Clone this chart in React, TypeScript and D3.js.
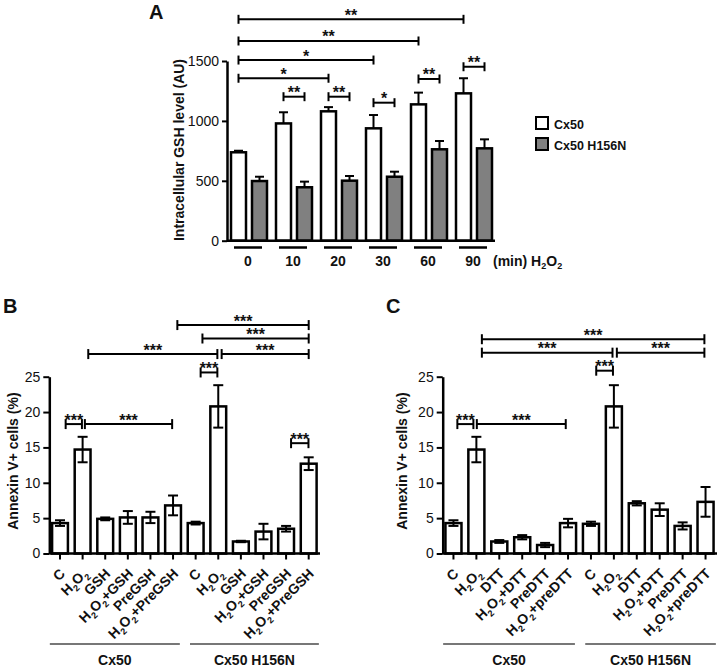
import React, { useEffect, useRef } from "react";
import * as d3 from "d3";

const FONT = "'Liberation Sans', Arial, Helvetica, sans-serif";

// ---- panel A: intracellular GSH
const timePoints = ["0", "10", "20", "30", "60", "90"];
const seriesA = ["Cx50", "Cx50 H156N"];
const gshCx50 = [738, 979, 1080, 938, 1138, 1230];
const gshCx50Err = [13, 93, 35, 111, 98, 126];
const gshH156N = [498, 446, 501, 534, 763, 771];
const gshH156NErr = [36, 47, 39, 42, 69, 75];
const gshTicks = [0, 500, 1000, 1500];
// g = time group, s = series (0 white, 1 grey)
const bracketsA = [
  { g1: 0, s1: 0, g2: 5, s2: 0, y: 1848, label: "**" },
  { g1: 0, s1: 0, g2: 4, s2: 0, y: 1667, label: "**" },
  { g1: 0, s1: 0, g2: 3, s2: 0, y: 1508, label: "*" },
  { g1: 0, s1: 0, g2: 2, s2: 0, y: 1356, label: "*" },
  { g1: 1, s1: 0, g2: 1, s2: 1, y: 1202, label: "**" },
  { g1: 2, s1: 0, g2: 2, s2: 1, y: 1202, label: "**" },
  { g1: 3, s1: 0, g2: 3, s2: 1, y: 1152, label: "*" },
  { g1: 4, s1: 0, g2: 4, s2: 1, y: 1350, label: "**" },
  { g1: 5, s1: 0, g2: 5, s2: 1, y: 1452, label: "**" },
];

// ---- panel B: GSH treatments
const labelsB = ["C", "H2O2", "GSH", "H2O2+GSH", "PreGSH", "H2O2+PreGSH",
  "C", "H2O2", "GSH", "H2O2+GSH", "PreGSH", "H2O2+PreGSH"];
const annexinB = [4.3, 14.7, 4.9, 5.1, 5.1, 6.8, 4.3, 20.8, 1.7, 3.1, 3.5, 12.7];
const annexinBErr = [0.4, 1.8, 0.2, 0.9, 0.8, 1.4, 0.2, 3.0, 0.1, 1.1, 0.4, 0.9];
// x1/x2 in bar-index units
const bracketsB = [
  { x1: 0.25, x2: 0.97, y: 18.3, label: "***" },
  { x1: 1.1, x2: 4.96, y: 18.3, label: "***" },
  { x1: 1.25, x2: 6.96, y: 28.2, label: "***" },
  { x1: 7.15, x2: 11.0, y: 28.2, label: "***" },
  { x1: 6.3, x2: 11.0, y: 30.4, label: "***" },
  { x1: 5.19, x2: 11.0, y: 32.3, label: "***" },
  { x1: 6.22, x2: 6.96, y: 25.6, label: "***" },
  { x1: 10.22, x2: 10.99, y: 15.6, label: "***" },
];

// ---- panel C: DTT treatments
const labelsC = ["C", "H2O2", "DTT", "H2O2+DTT", "PreDTT", "H2O2+preDTT",
  "C", "H2O2", "DTT", "H2O2+DTT", "PreDTT", "H2O2+preDTT"];
const annexinC = [4.3, 14.7, 1.7, 2.3, 1.2, 4.3, 4.2, 20.8, 7.1, 6.2, 3.9, 7.3];
const annexinCErr = [0.4, 1.8, 0.2, 0.3, 0.3, 0.6, 0.3, 3.0, 0.3, 0.9, 0.5, 2.1];
const bracketsC = [
  { x1: 1.24, x2: 10.95, y: 30.3, label: "***" },
  { x1: 1.24, x2: 6.94, y: 28.4, label: "***" },
  { x1: 7.13, x2: 10.95, y: 28.4, label: "***" },
  { x1: 6.23, x2: 6.96, y: 25.85, label: "***" },
  { x1: 0.17, x2: 0.87, y: 18.3, label: "***" },
  { x1: 1.02, x2: 4.9, y: 18.3, label: "***" },
];

const annexinTicks = [0, 5, 10, 15, 20, 25];
const cellGroups = [
  { label: "Cx50", from: -0.45, to: 5.3 },
  { label: "Cx50 H156N", from: 5.75, to: 11.45 },
];

// writes "H2O2..." with the 2s as subscripts
function chem(text: any, str: string, subSize: number, shift: number) {
  let down = false;
  str.split(/(2)/).forEach((p, i) => {
    if (!p) return;
    if (i % 2 === 1) {
      text.append("tspan").attr("font-size", subSize).attr("dy", down ? 0 : shift).text(p);
      down = true;
    } else {
      text.append("tspan").attr("dy", down ? -shift : 0).text(p);
      down = false;
    }
  });
}

function drawBracket(svg: any, xa: number, xb: number, yy: number, half: number, label: string) {
  svg.append("line").attr("x1", xa).attr("x2", xb).attr("y1", yy).attr("y2", yy)
    .attr("stroke", "black").attr("stroke-width", 2);
  [xa, xb].forEach((xx) => {
    svg.append("line").attr("x1", xx).attr("x2", xx).attr("y1", yy - half).attr("y2", yy + half)
      .attr("stroke", "black").attr("stroke-width", 2);
  });
  svg.append("text").attr("x", (xa + xb) / 2).attr("y", yy + 1.5)
    .attr("text-anchor", "middle").attr("font-size", 16).attr("font-weight", "bold")
    .text(label);
}

function drawPanelA(svg: any) {
  const x = d3.scalePoint().domain(timePoints).range([249, 474]);
  const y = d3.scaleLinear().domain([0, 1500]).range([240.7, 61]);
  const axisX = 227;
  const off = [-10.5, 10.5];
  const barW = 15;
  const bx = (g: number, s: number) => (x(timePoints[g]) as number) + off[s];

  svg.append("text").attr("x", 149).attr("y", 18.5).attr("font-size", 20)
    .attr("font-weight", "bold").text("A");

  const yAxis = d3.axisLeft(y).tickValues(gshTicks).tickFormat(d3.format("d"))
    .tickSize(5).tickSizeOuter(0).tickPadding(3);
  const ga = svg.append("g").attr("transform", `translate(${axisX},0)`).call(yAxis);
  ga.select(".domain").attr("stroke-width", 2.5);
  ga.selectAll(".tick line").attr("stroke-width", 2);
  ga.selectAll("text").attr("font-size", 14).attr("font-family", FONT).attr("fill", "#111");

  svg.append("text").attr("transform", "translate(184,150) rotate(-90)")
    .attr("text-anchor", "middle").attr("font-size", 14).attr("font-weight", "bold")
    .text("Intracellular GSH level (AU)");

  const vals = [gshCx50, gshH156N];
  const errs = [gshCx50Err, gshH156NErr];
  const fills = ["white", "#808080"];
  vals.forEach((arr, s) => {
    arr.forEach((v, g) => {
      const cx = bx(g, s);
      svg.append("rect").attr("x", cx - barW / 2).attr("y", y(v)).attr("width", barW)
        .attr("height", y(0) - y(v)).attr("fill", fills[s]).attr("stroke", "black").attr("stroke-width", 2.5);
      const top = y(v + errs[s][g]);
      svg.append("line").attr("x1", cx).attr("x2", cx).attr("y1", y(v)).attr("y2", top)
        .attr("stroke", "black").attr("stroke-width", 2);
      svg.append("line").attr("x1", cx - 4.5).attr("x2", cx + 4.5).attr("y1", top).attr("y2", top)
        .attr("stroke", "black").attr("stroke-width", 2);
    });
  });

  svg.append("line").attr("x1", axisX).attr("x2", 495).attr("y1", y(0)).attr("y2", y(0))
    .attr("stroke", "black").attr("stroke-width", 2.5);

  timePoints.forEach((t) => {
    const gx = (x(t) as number) - 1;
    svg.append("line").attr("x1", gx - 14).attr("x2", gx + 14).attr("y1", 247.5).attr("y2", 247.5)
      .attr("stroke", "black").attr("stroke-width", 2.5);
    svg.append("text").attr("x", gx).attr("y", 266).attr("text-anchor", "middle")
      .attr("font-size", 14).attr("font-weight", "bold").text(t);
  });
  const unit = svg.append("text").attr("x", 493).attr("y", 266).attr("font-size", 14).attr("font-weight", "bold");
  chem(unit, "(min) H2O2", 9, 3);

  bracketsA.forEach((b) => drawBracket(svg, bx(b.g1, b.s1), bx(b.g2, b.s2), y(b.y), 4.5, b.label));

  seriesA.forEach((name, s) => {
    const ly = 117 + s * 21;
    svg.append("rect").attr("x", 536).attr("y", ly).attr("width", 12).attr("height", 12)
      .attr("fill", fills[s]).attr("stroke", "black").attr("stroke-width", 2);
    svg.append("text").attr("x", 554).attr("y", ly + 11.5).attr("font-size", 12.5)
      .attr("font-weight", "bold").text(name);
  });
}

function drawAnnexin(svg: any, cfg: any) {
  const { letter, letterX, labels, values, errs, brackets, x0, x1, axisX, titleX } = cfg;
  const n = labels.length;
  const x = d3.scaleBand<number>().domain(d3.range(n)).range([x0, x1]).paddingInner(0.3).paddingOuter(0.15);
  const bw = x.bandwidth();
  const cx = d3.scaleLinear().domain([0, n - 1])
    .range([(x(0) as number) + bw / 2, (x(n - 1) as number) + bw / 2]);
  const y = d3.scaleLinear().domain([0, 25]).range([553.5, 376.7]);

  svg.append("text").attr("x", letterX).attr("y", 313).attr("font-size", 20)
    .attr("font-weight", "bold").text(letter);

  const yAxis = d3.axisLeft(y).tickValues(annexinTicks).tickSize(6).tickSizeOuter(0).tickPadding(3);
  const ga = svg.append("g").attr("transform", `translate(${axisX},0)`).call(yAxis);
  ga.select(".domain").attr("stroke-width", 2.5);
  ga.selectAll(".tick line").attr("stroke-width", 2);
  ga.selectAll("text").attr("font-size", 14).attr("font-family", FONT).attr("fill", "#111");

  svg.append("text")
    .attr("transform", `translate(${titleX},${(y(0) + y(25)) / 2 - 4}) rotate(-90)`)
    .attr("text-anchor", "middle").attr("font-size", 14).attr("font-weight", "bold")
    .text("Annexin V+ cells (%)");

  values.forEach((v: number, i: number) => {
    svg.append("rect").attr("x", x(i)).attr("y", y(v)).attr("width", bw).attr("height", y(0) - y(v))
      .attr("fill", "white").attr("stroke", "black").attr("stroke-width", 2.5);
    const c = cx(i);
    const lo = y(v - errs[i]);
    const hi = y(v + errs[i]);
    svg.append("line").attr("x1", c).attr("x2", c).attr("y1", lo).attr("y2", hi)
      .attr("stroke", "black").attr("stroke-width", 2);
    [lo, hi].forEach((yy) => {
      svg.append("line").attr("x1", c - 5).attr("x2", c + 5).attr("y1", yy).attr("y2", yy)
        .attr("stroke", "black").attr("stroke-width", 2);
    });
  });

  svg.append("line").attr("x1", axisX).attr("x2", x1).attr("y1", y(0)).attr("y2", y(0))
    .attr("stroke", "black").attr("stroke-width", 2.5);

  labels.forEach((lab: string, i: number) => {
    const c = cx(i);
    svg.append("line").attr("x1", c).attr("x2", c).attr("y1", y(0)).attr("y2", y(0) + 6)
      .attr("stroke", "black").attr("stroke-width", 2);
    const t = svg.append("text").attr("transform", `translate(${c + 6},${y(0) + 21}) rotate(-45)`)
      .attr("text-anchor", "end").attr("font-size", 14).attr("font-weight", "bold");
    chem(t, lab, 9, 4);
  });

  cellGroups.forEach((gr) => {
    const a = cx(gr.from);
    const b = cx(gr.to);
    svg.append("line").attr("x1", a).attr("x2", b).attr("y1", 644).attr("y2", 644)
      .attr("stroke", "#777").attr("stroke-width", 2);
    svg.append("text").attr("x", (a + b) / 2).attr("y", 665).attr("text-anchor", "middle")
      .attr("font-size", 14).attr("font-weight", "bold").text(gr.label);
  });

  brackets.forEach((b: any) => drawBracket(svg, cx(b.x1), cx(b.x2), y(b.y), 5, b.label));
}

const App = () => {
  const svgRef = useRef<SVGSVGElement>(null);

  useEffect(() => {
    const svg = d3.select(svgRef.current);
    svg.selectAll("*").remove();
    svg.attr("font-family", FONT).attr("fill", "#111");

    drawPanelA(svg);
    drawAnnexin(svg, {
      letter: "B", letterX: 3, labels: labelsB, values: annexinB, errs: annexinBErr,
      brackets: bracketsB, x0: 48.7, x1: 320, axisX: 49.3, titleX: 18,
    });
    drawAnnexin(svg, {
      letter: "C", letterX: 386, labels: labelsC, values: annexinC, errs: annexinCErr,
      brackets: bracketsC, x0: 442, x1: 717, axisX: 442.7, titleX: 406.5,
    });
  }, []);

  return (
    <svg
      ref={svgRef}
      width={726}
      height={669}
      style={{ position: "absolute", left: 0, top: 0, background: "white" }}
    ></svg>
  );
};

export default App;
